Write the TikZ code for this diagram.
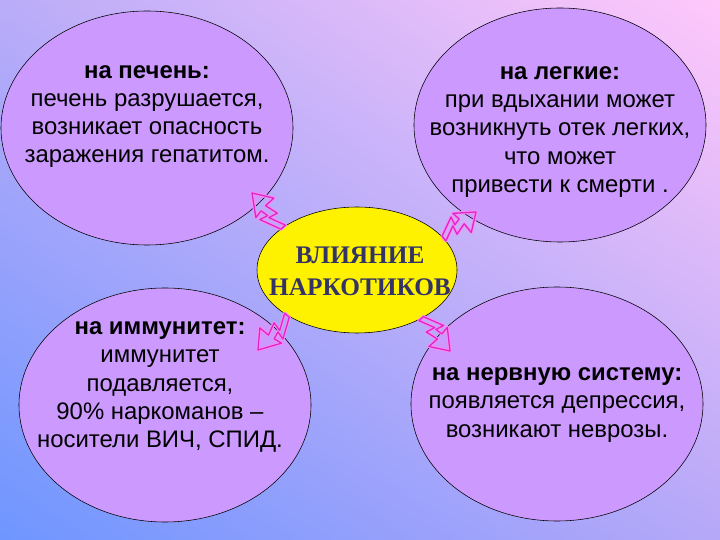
\documentclass[tikz,border=0pt]{standalone}
\usepackage{fontspec}
\setmainfont{Liberation Sans}
\newfontfamily\timesfont{Liberation Serif}
\usepackage{tikz}
\usetikzlibrary{shapes.geometric,calc,shadings}
\definecolor{blobfill}{RGB}{204,153,255}
\definecolor{coretext}{RGB}{51,51,102}
\definecolor{zzcore}{RGB}{225,35,205}
\definecolor{zzhalo}{RGB}{248,140,238}
\definecolor{bgul}{RGB}{186,172,248}
\definecolor{bgur}{RGB}{255,200,250}
\definecolor{bgll}{RGB}{110,150,255}
\definecolor{bglr}{RGB}{182,168,248}
\newcommand{\zp}[2]{($(\tikztostart)!#1!(\tikztotarget)!#2cm!90:(\tikztotarget)$)}
\tikzset{
  blob/.style={ellipse, draw, thin, fill=blobfill, inner sep=0pt,
               minimum width=7.3cm, minimum height=5.85cm},
  core/.style={ellipse, draw, thin, fill=yellow, inner sep=0pt,
               minimum width=5cm, minimum height=3.15cm},
  coretxt/.style={align=center, text=coretext,
               font=\timesfont\bfseries\fontsize{18}{22.5}\selectfont},
  txt/.style={align=center, font=\fontsize{17}{20}\selectfont},
  zz/.style={draw=zzhalo, line width=0.7pt, double=zzcore, double distance=0.9pt,
             line join=round,
             to path={\zp{0}{0.07} -- \zp{0.46}{0.3} -- \zp{0.41}{0.09}
               -- \zp{0.58}{0.13} -- \zp{0.55}{0.34} -- (\tikztotarget)
               -- \zp{0.6}{-0.32} -- \zp{0.6}{-0.04} -- \zp{0.31}{-0.13}
               -- \zp{0.36}{0.1} -- \zp{0}{-0.08} -- cycle}}
}
\begin{document}
\begin{tikzpicture}
\useasboundingbox (0,0) rectangle (18,13.5);
\shade[upper left=bgul, upper right=bgur, lower left=bgll, lower right=bglr]
  (0,0) rectangle (18,13.5);
\node[blob] (liv) at (3.675,10.3)  {};
\node[blob] (lun) at (14.0,10.375) {};
\node[blob] (imm) at (4.125,3.375) {};
\node[blob] (ner) at (13.925,3.4)  {};
\node[core] (c) at (8.925,6.75) {};
\node[coretxt] (ct) at (9.0,6.72) {ВЛИЯНИЕ\\НАРКОТИКОВ};
\node[txt] (livt) at (3.675,10.59) {\textbf{на печень:}\\печень разрушается,\\возникает опасность\\заражения гепатитом.};
\node[txt] (lunt) at (14.0,10.2) {\textbf{на легкие:}\\при вдыхании может\\возникнуть отек легких,\\что может\\привести к смерти .};
\node[txt] (immt) at (4.0,3.825) {\textbf{на иммунитет:}\\иммунитет\\подавляется,\\90\% наркоманов –\\носители ВИЧ, СПИД.};
\node[txt] (nert) at (13.925,3.375) {\textbf{на нервную систему:}\\появляется депрессия,\\возникают неврозы.};
\coordinate (tliv) at (6.3,8.675);
\coordinate (tlun) at (11.9,8.2);
\coordinate (timm) at (6.45,4.75);
\coordinate (tner) at (11.25,4.725);
\draw[zz] (c.150) to (tliv);
\draw[zz] (c.20)  to (tlun);
\draw[zz] (c.213) to (timm);
\draw[zz] (c.-37) to (tner);
\end{tikzpicture}
\end{document}
